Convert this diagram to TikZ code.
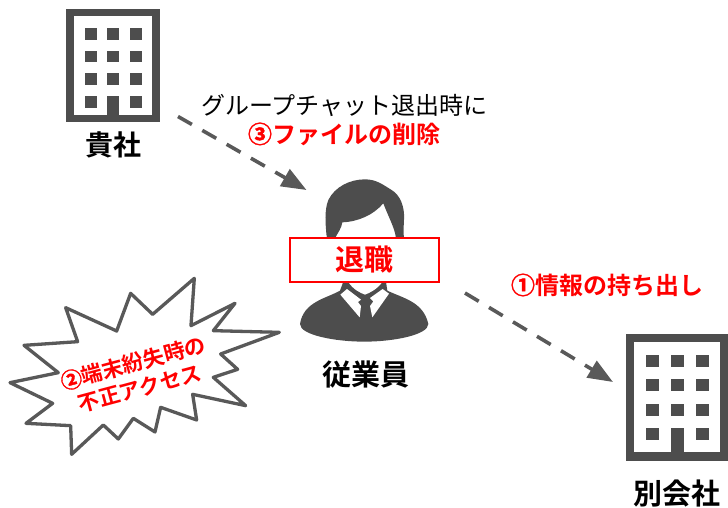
\documentclass[tikz,border=0pt]{standalone}
\usepackage{fontspec}
\setmainfont{Noto Sans CJK JP}
\newfontfamily\jpb{Noto Sans CJK JP Bold}
\newfontfamily\jpfb[FakeBold=1.6]{Noto Sans CJK JP Bold}
\usetikzlibrary{arrows.meta}
\definecolor{icon}{HTML}{4D4D4D}
\definecolor{burstgrey}{HTML}{595959}
\definecolor{alert}{HTML}{FF0000}
\tikzset{
  darktext/.style={inner sep=0pt,text=black,font=\jpb\fontsize{28}{30}\selectfont},
  redlabel/.style={inner sep=0pt,text=alert,font=\jpb\fontsize{24}{26}\selectfont},
  flowarrow/.style={draw=burstgrey,line width=3.6pt,dash pattern=on 16pt off 12pt,
    -{Triangle[length=25pt,width=19pt,fill=burstgrey]}},
  iconfill/.style={fill=icon,draw=none},
  hole/.style={fill=white,draw=none}
}
\begin{document}
\begin{tikzpicture}[x=1pt,y=-1pt]
\useasboundingbox (0,0) rectangle (728,507);
\fill[white] (0,0) rectangle (728,507);
% building 1
\fill[iconfill] (66,9) rectangle (159.5,122);
\fill[hole] (73.5,16) rectangle (152,115);
\foreach \yy in {28,50.5,73,96}{
  \foreach \xx in {85,107,130}{
    \fill[iconfill] (\xx,\yy) rectangle +(11.5,11.5);
  }
}
\fill[iconfill] (107,96) rectangle (118.5,115);
% building 2
\fill[iconfill] (626,334) rectangle (728,461);
\fill[hole] (634,342) rectangle (720,452);
\foreach \yy in {355,379,404,428}{
  \foreach \xx in {646,671,696}{
    \fill[iconfill] (\xx,\yy) rectangle +(12.5,12);
  }
}
\fill[iconfill] (671,428) rectangle (683.5,452);
% person
\begin{scope}[shift={(280,170)},x=0.3333pt,y=-0.3333pt]
  \fill[icon] (140,200) .. controls (136,160) and (133,120) .. (145,90)
    .. controls (165,50) and (210,28) .. (255,28)
    .. controls (290,28) and (310,45) .. (335,60)
    .. controls (360,75) and (375,110) .. (372,150)
    .. controls (371,170) and (370,190) .. (372,205)
    -- (348,205) .. controls (345,175) and (325,140) .. (310,100)
    .. controls (280,135) and (235,155) .. (187,157)
    .. controls (185,175) and (172,190) .. (165,205) -- cycle;
  \fill[icon] (190,335) -- (318,335) -- (322,362)
    .. controls (370,385) and (430,395) .. (445,462)
    .. controls (445,495) and (340,515) .. (253,515)
    .. controls (165,515) and (60,495) .. (60,462)
    .. controls (70,395) and (140,385) .. (180,362) -- cycle;
\end{scope}
\begin{scope}[shift={(325,278)},x=0.3333pt,y=-0.3333pt]
  \fill[hole] (70,12) .. controls (85,35) and (105,44) .. (120,50)
    .. controls (135,44) and (155,35) .. (172,12) -- cycle;
  \fill[hole] (46,50) -- (66,33) -- (108,65) -- (99,72) -- (108,84) -- (104,118) -- cycle;
  \fill[hole] (192,47) -- (173,33) -- (135,60) -- (145,70) -- (135,84) -- (142,118) -- cycle;
\end{scope}
\node[draw=alert,line width=2pt,fill=white,minimum width=149pt,minimum height=44pt,inner sep=0pt,
  text=alert,font=\jpb\fontsize{29}{31}\selectfont] (retire) at (364,260) {退職};
% labels
\node[darktext] (kisha) at (113,145) {貴社};
\node[darktext,font=\jpb\fontsize{29}{31}\selectfont] (employee) at (366,375) {従業員};
\node[darktext,font=\jpb\fontsize{29}{31}\selectfont] (other) at (677,493) {別会社};
\node[inner sep=0pt,text=black,font=\fontsize{24}{26}\selectfont] (chat) at (344.5,105) {グループチャット退出時に};
\node[redlabel] (del) at (344,134) {{\jpfb ③}ファイルの削除};
\node[redlabel] (leak) at (607,285) {{\jpfb ①}情報の持ち出し};
% burst
\begin{scope}[shift={(0,260)},x=0.3333pt,y=-0.3333pt]
  \draw[burstgrey,line width=3.3pt,line join=round,fill=white] (583,55) -- (573,197) -- (705,130) -- (640,212) -- (838,217) -- (662,282) -- (713,328) -- (640,352) -- (737,437) -- (578,403) -- (590,480) -- (482,442) -- (465,516) -- (400,475) -- (355,537) -- (310,495) -- (215,583) -- (212,497) -- (78,490) -- (158,430) -- (30,368) -- (175,338) -- (72,256) -- (233,245) -- (197,143) -- (350,213) -- (392,100) -- (458,163) -- cycle;
\end{scope}
\node[inner sep=0pt,text=alert,rotate=15,align=center,font=\jpb\fontsize{21.3}{26}\selectfont] (burst) at (136.5,375.5) {{\jpfb ②}端末紛失時の\\不正アクセス};
% connectors
\coordinate (s1) at (178,116.5);
\coordinate (e1) at (306.5,190);
\coordinate (s2) at (465,293);
\coordinate (e2) at (613,382);
\draw[flowarrow] (s1) -- (e1);
\draw[flowarrow] (s2) -- (e2);
\end{tikzpicture}
\end{document}
